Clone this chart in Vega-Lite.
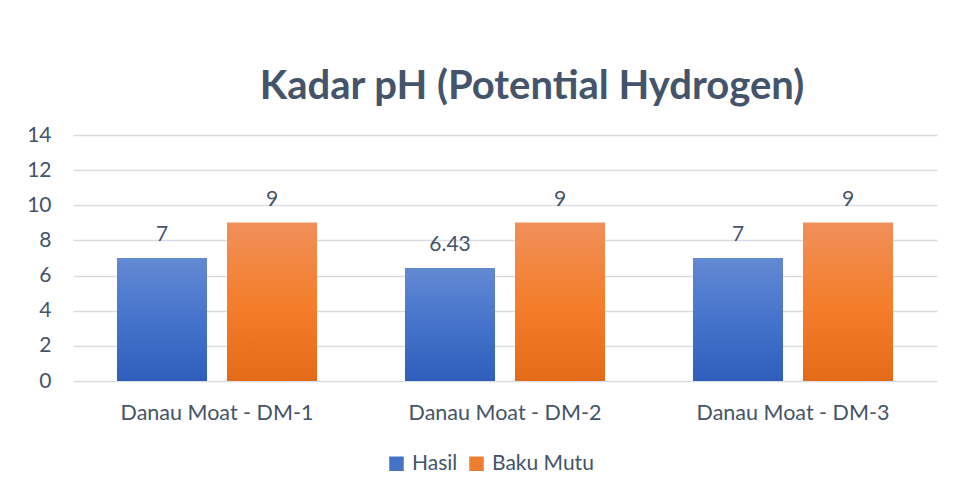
{
  "$schema": "https://vega.github.io/schema/vega-lite/v6.json",
  "width": 864,
  "height": 246,
  "autosize": {"type": "none"},
  "padding": {"left": 73, "top": 135, "right": 17, "bottom": 117},
  "background": "white",
  "title": {
    "text": "Kadar pH (Potential Hydrogen)",
    "font": "Lato",
    "fontSize": 40,
    "fontWeight": "bold",
    "color": "#44546a",
    "anchor": "middle",
    "frame": "group",
    "baseline": "alphabetic",
    "offset": 20,
    "dx": 27,
    "dy": 35
  },
  "data": {
    "values": [
      {"lokasi": "Danau Moat - DM-1", "seri": "Hasil", "nilai": 7},
      {"lokasi": "Danau Moat - DM-1", "seri": "Baku Mutu", "nilai": 9},
      {"lokasi": "Danau Moat - DM-2", "seri": "Hasil", "nilai": 6.43},
      {"lokasi": "Danau Moat - DM-2", "seri": "Baku Mutu", "nilai": 9},
      {"lokasi": "Danau Moat - DM-3", "seri": "Hasil", "nilai": 7},
      {"lokasi": "Danau Moat - DM-3", "seri": "Baku Mutu", "nilai": 9}
    ]
  },
  "encoding": {
    "x": {
      "field": "lokasi",
      "type": "nominal",
      "sort": null,
      "scale": {"paddingInner": 0.3056, "paddingOuter": 0.1528},
      "axis": {
        "title": null,
        "labelAngle": 0,
        "labelFont": "Lato",
        "labelFontSize": 21.5,
        "labelColor": "#44546a",
        "labelPadding": 21,
        "labelLimit": 0,
        "labelOverlap": false,
        "ticks": false,
        "domain": false
      }
    },
    "xOffset": {
      "field": "seri",
      "type": "nominal",
      "sort": ["Hasil", "Baku Mutu"],
      "scale": {"paddingInner": 0.1818, "paddingOuter": 0}
    },
    "y": {
      "field": "nilai",
      "type": "quantitative",
      "scale": {"domain": [0, 14]},
      "axis": {
        "title": null,
        "values": [0, 2, 4, 6, 8, 10, 12, 14],
        "labelFont": "Lato",
        "labelFontSize": 21,
        "labelColor": "#44546a",
        "labelPadding": 22,
        "ticks": false,
        "domain": false,
        "gridColor": "#d9dde3",
        "gridWidth": 1.3
      }
    }
  },
  "layer": [
    {
      "mark": {"type": "bar"},
      "encoding": {
        "color": {
          "field": "seri",
          "type": "nominal",
          "sort": ["Hasil", "Baku Mutu"],
          "scale": {"domain": ["Hasil", "Baku Mutu"], "range": ["#4472c4", "#ed7d31"]},
          "legend": {
            "title": null,
            "orient": "none",
            "direction": "horizontal",
            "legendX": 313,
            "legendY": 318,
            "symbolType": "square",
            "symbolSize": 210,
            "symbolStrokeWidth": 0,
            "labelFont": "Lato",
            "labelFontSize": 21,
            "labelColor": "#44546a",
            "labelOffset": 5,
            "columnPadding": 8
          }
        }
      }
    },
    {
      "transform": [{"filter": "datum.seri === 'Hasil'"}],
      "mark": {
        "type": "bar",
        "color": {
          "x1": 0, "y1": 0, "x2": 0, "y2": 1,
          "gradient": "linear",
          "stops": [
            {"offset": 0, "color": "#6389d2"},
            {"offset": 0.5, "color": "#4573cc"},
            {"offset": 1, "color": "#2f5fba"}
          ]
        }
      },
      "encoding": {}
    },
    {
      "transform": [{"filter": "datum.seri === 'Baku Mutu'"}],
      "mark": {
        "type": "bar",
        "color": {
          "x1": 0, "y1": 0, "x2": 0, "y2": 1,
          "gradient": "linear",
          "stops": [
            {"offset": 0, "color": "#f08f5a"},
            {"offset": 0.5, "color": "#f47e2c"},
            {"offset": 1, "color": "#e46c18"}
          ]
        }
      },
      "encoding": {}
    },
    {
      "mark": {
        "type": "text",
        "baseline": "alphabetic",
        "dy": -17,
        "font": "Lato",
        "fontSize": 21,
        "color": "#44546a"
      },
      "encoding": {
        "text": {"field": "nilai", "type": "quantitative"}
      }
    }
  ],
  "config": {
    "view": {"stroke": null}
  }
}
